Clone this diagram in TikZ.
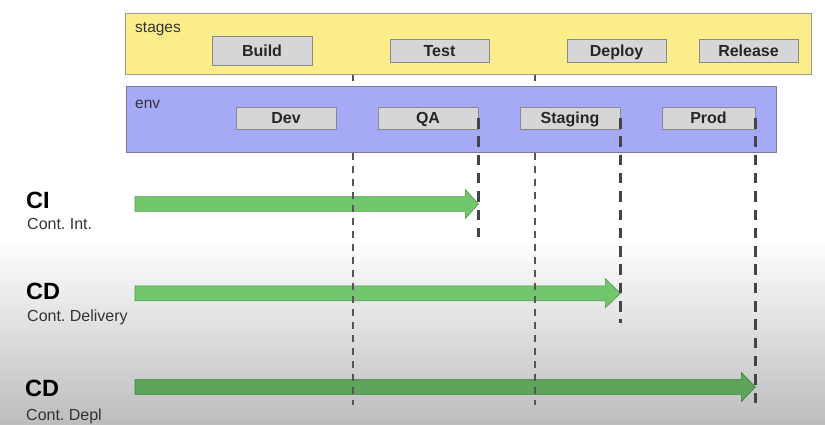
\documentclass[tikz,border=0pt]{standalone}
\usepackage{fontspec}
\setmainfont{Liberation Sans}
\usetikzlibrary{calc}
\frenchspacing
\definecolor{stagefill}{HTML}{FBEE8A}
\definecolor{stageline}{HTML}{9A9A8A}
\definecolor{envfill}{HTML}{A5A9F6}
\definecolor{envline}{HTML}{7A7A9A}
\definecolor{boxfill}{HTML}{D6D6D6}
\definecolor{boxline}{HTML}{8A8A8A}
\definecolor{lightgreen}{HTML}{72C66C}
\definecolor{lightgreenline}{HTML}{4E9A4A}
\definecolor{darkgreen}{HTML}{5CA55A}
\definecolor{darkgreenline}{HTML}{3F7F3D}
\definecolor{dashgray}{HTML}{555555}
\definecolor{dashdark}{HTML}{444444}
\tikzset{
  band/.style={draw, line width=0.8pt, inner sep=0pt, minimum width=0pt},
  itembox/.style={draw=boxline, fill=boxfill, line width=0.8pt, inner sep=0pt,
    text height=11.5pt, text depth=0pt,
    font=\fontsize{16}{18}\selectfont\bfseries, text=black!85},
  bandlabel/.style={anchor=base west, inner sep=0pt, font=\fontsize{15.5}{18}\selectfont, text=black!80},
  bigtitle/.style={anchor=base west, inner sep=0pt, font=\fontsize{23.5}{26}\selectfont\bfseries, text=black},
  subtitle/.style={anchor=base west, inner sep=0pt, font=\fontsize{16}{18}\selectfont, text=black!80},
  thindash/.style={draw=dashgray, line width=1.3pt, dash pattern=on 7pt off 6pt},
  thickdash/.style={draw=dashdark, line width=2.2pt, dash pattern=on 10.5pt off 7.8pt},
  lightarrow/.style={fill=lightgreen, draw=lightgreenline, line width=0.6pt},
  darkarrow/.style={fill=darkgreen, draw=darkgreenline, line width=0.6pt},
}
\begin{document}
\begin{tikzpicture}[x=1pt,y=-1pt]
% background
\useasboundingbox (0,0) rectangle (825,424);
\fill[white] (0,0) rectangle (825,424);
\shade[top color=white, bottom color=black!26] (0,240) rectangle (825,424);

% coordinates of the thin stage separators
\coordinate (sepA) at (353,74);
\coordinate (sepB) at (535,74);
\coordinate (sepAbot) at (353,405);
\coordinate (sepBbot) at (535,405);

% tick of thin separators above env band
\draw[thindash] (sepA) -- (353,87);
\draw[thindash] (sepB) -- (535,87);

% stages band
\node[band, draw=stageline, fill=stagefill, minimum width=686pt, minimum height=61pt] (stages) at (468.5,43.7) {};
\node[bandlabel] (stageslbl) at (135,32) {stages};
\node[itembox, minimum width=100pt, minimum height=29pt] (build) at (262,51) {Build};
\node[itembox, minimum width=99pt, minimum height=23pt] (test) at (439.5,50.5) {Test};
\node[itembox, minimum width=99pt, minimum height=23pt] (deploy) at (616.5,50.5) {Deploy};
\node[itembox, minimum width=99pt, minimum height=23pt] (release) at (748.5,50.5) {Release};

% env band
\node[band, draw=envline, fill=envfill, minimum width=650pt, minimum height=65.5pt] (env) at (451,119.5) {};
\node[bandlabel] (envlbl) at (135,108) {env};
\node[itembox, minimum width=100pt, minimum height=22pt] (dev) at (286,118) {Dev};
\node[itembox, minimum width=100pt, minimum height=22pt] (qa) at (428,118) {QA};
\node[itembox, minimum width=100pt, minimum height=22pt] (staging) at (570,118) {Staging};
\node[itembox, minimum width=93pt, minimum height=22pt] (prod) at (708.5,118) {Prod};

% row labels
\node[bigtitle] (ci) at (26,208) {CI};
\node[subtitle] (cisub) at (27,229.3) {Cont. Int.};
\node[bigtitle] (cd1) at (26,299.5) {CD};
\node[subtitle] (cd1sub) at (27,321) {Cont. Delivery};
\node[bigtitle] (cd2) at (25,396) {CD};
\node[subtitle] (cd2sub) at (26,420) {Cont. Depl};

% arrow start points
\coordinate (ciS) at (135,204);
\coordinate (cdS) at (135,293.3);
\coordinate (cdpS) at (135,387);
\coordinate (ciT) at (qa.east |- ciS);
\coordinate (cdT) at (staging.east |- cdS);
\coordinate (cdpT) at (prod.east |- cdpS);

% block arrows
\draw[lightarrow] let \p1=(ciS), \p2=(ciT) in
  (\x1,\y1+7.4pt) -- (\x2-13pt,\y1+7.4pt) -- (\x2-13pt,\y1+14.5pt) -- (\x2,\y1)
  -- (\x2-13pt,\y1-14.5pt) -- (\x2-13pt,\y1-7.4pt) -- (\x1,\y1-7.4pt) -- cycle;
\draw[lightarrow] let \p1=(cdS), \p2=(cdT) in
  (\x1,\y1+7.4pt) -- (\x2-15pt,\y1+7.4pt) -- (\x2-15pt,\y1+14.5pt) -- (\x2,\y1)
  -- (\x2-15pt,\y1-14.5pt) -- (\x2-15pt,\y1-7.4pt) -- (\x1,\y1-7.4pt) -- cycle;
\draw[darkarrow] let \p1=(cdpS), \p2=(cdpT) in
  (\x1,\y1+7.3pt) -- (\x2-14pt,\y1+7.3pt) -- (\x2-14pt,\y1+14.5pt) -- (\x2,\y1)
  -- (\x2-14pt,\y1-14.5pt) -- (\x2-14pt,\y1-7.3pt) -- (\x1,\y1-7.3pt) -- cycle;

% thin separators below env band
\draw[thindash] (sepA |- env.south) -- (sepAbot);
\draw[thindash] (sepB |- env.south) -- (sepBbot);

% thick environment markers
\coordinate (qaEnd) at (478,237);
\coordinate (stagingEnd) at (620,323);
\coordinate (prodEnd) at (755,408);
\draw[thickdash] (qa.east) -- (qa.east |- qaEnd);
\draw[thickdash] (staging.east) -- (staging.east |- stagingEnd);
\draw[thickdash] (prod.east) -- (prod.east |- prodEnd);
\end{tikzpicture}
\end{document}
